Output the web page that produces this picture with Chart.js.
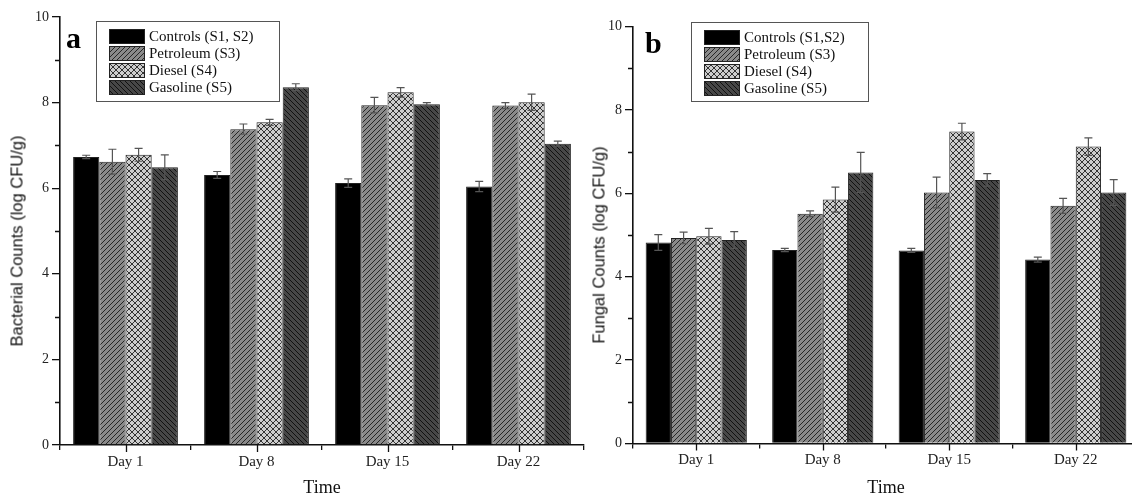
<!DOCTYPE html>
<html>
<head>
<meta charset="utf-8">
<script src="https://cdn.jsdelivr.net/npm/chart.js@4.4.0/dist/chart.umd.min.js"></script>
<style>
  html, body { margin: 0; padding: 0; background: #fff; }
  #wrap { position: relative; width: 1132px; height: 497px; overflow: hidden; }
  canvas.chart { position: absolute; top: 0; }
  .ytitle { position: absolute; font: 16.5px 'Liberation Sans', Arial, sans-serif; color: #111; white-space: nowrap;
            transform: translate(-50%, -50%) rotate(-90deg); }
  .legend { position: absolute; box-sizing: border-box; border: 1px solid #555; background: #fff; padding-top: 6px;
            font: 15px 'Liberation Serif', 'Times New Roman', serif; color: #111; }
  .legend .row { display: flex; align-items: center; height: 17px; padding-left: 12px; }
  .legend canvas { border: 1px solid #222; margin-right: 4px; }
  .panel { position: absolute; font: bold 30px 'Liberation Serif', 'Times New Roman', serif; line-height: 1; color: #000; }
</style>
</head>
<body>
<div id="wrap">
  <canvas id="bact" class="chart" width="600" height="497" style="left:0px"></canvas>
  <canvas id="fung" class="chart" width="590" height="497" style="left:560px"></canvas>
  <div class="ytitle" style="left:17px; top:241px">Bacterial Counts (log CFU/g)</div>
  <div class="ytitle" style="left:599px; top:245px">Fungal Counts (log CFU/g)</div>
  <div class="panel" style="left:66px; top:23px">a</div>
  <div class="panel" style="left:645px; top:28px">b</div>
  <div id="legA" class="legend" style="left:96px; top:21px; width:184px; height:81px"></div>
  <div id="legB" class="legend" style="left:691px; top:22px; width:178px; height:80px"></div>
</div>
<script>
// data
const days = ['Day 1', 'Day 8', 'Day 15', 'Day 22'];
const legendA = ['Controls (S1, S2)', 'Petroleum (S3)', 'Diesel (S4)', 'Gasoline (S5)'];
const legendB = ['Controls (S1,S2)', 'Petroleum (S3)', 'Diesel (S4)', 'Gasoline (S5)'];

// (a) bacterial counts
const bactControls = [6.73, 6.31, 6.12, 6.04];
const bactPetroleum = [6.62, 7.38, 7.94, 7.93];
const bactDiesel = [6.78, 7.54, 8.24, 8.01];
const bactGasoline = [6.49, 8.36, 7.96, 7.04];
const bactControlsErr = [0.04, 0.08, 0.10, 0.12];
const bactPetroleumErr = [0.29, 0.12, 0.18, 0.07];
const bactDieselErr = [0.15, 0.07, 0.11, 0.19];
const bactGasolineErr = [0.29, 0.08, 0.04, 0.06];

// (b) fungal counts
const fungControls = [4.82, 4.64, 4.63, 4.41];
const fungPetroleum = [4.93, 5.51, 6.02, 5.70];
const fungDiesel = [4.97, 5.85, 7.48, 7.12];
const fungGasoline = [4.88, 6.50, 6.32, 6.02];
const fungControlsErr = [0.19, 0.04, 0.05, 0.06];
const fungPetroleumErr = [0.14, 0.07, 0.37, 0.18];
const fungDieselErr = [0.19, 0.30, 0.20, 0.21];
const fungGasolineErr = [0.20, 0.48, 0.15, 0.31];

const yTicks = [0, 2, 4, 6, 8, 10];

const SERIF = "'Liberation Serif', 'Times New Roman', serif";

// hatch tiles: solid, "/" , crosshatch, "\"
function makeTile(kind) {
  const c = document.createElement('canvas');
  const s = kind === 'cross' ? 6 : 5;
  c.width = s; c.height = s;
  const g = c.getContext('2d');
  const styles = {
    solid: ['#000', null],
    fwd: ['#8a8a8a', '#262626'],
    cross: ['#cdcdcd', '#333'],
    back: ['#474747', '#111'],
  };
  const [bg, line] = styles[kind];
  g.fillStyle = bg;
  g.fillRect(0, 0, s, s);
  if (line) {
    g.strokeStyle = line;
    g.lineWidth = 1;
    g.beginPath();
    if (kind === 'fwd' || kind === 'cross') {
      g.moveTo(-1, s + 1); g.lineTo(s + 1, -1);
      g.moveTo(-1, 1); g.lineTo(1, -1);
      g.moveTo(s - 1, s + 1); g.lineTo(s + 1, s - 1);
    }
    if (kind === 'back' || kind === 'cross') {
      g.moveTo(-1, -1); g.lineTo(s + 1, s + 1);
      g.moveTo(-1, s - 1); g.lineTo(1, s + 1);
      g.moveTo(s - 1, -1); g.lineTo(s + 1, 1);
    }
    g.stroke();
  }
  return c;
}
const kinds = ['solid', 'fwd', 'cross', 'back'];
const tiles = kinds.map(makeTile);

function buildLegend(id, labels) {
  const box = document.getElementById(id);
  labels.forEach((txt, i) => {
    const row = document.createElement('div');
    row.className = 'row';
    const sw = document.createElement('canvas');
    sw.width = 34; sw.height = 13;
    const g = sw.getContext('2d');
    g.fillStyle = g.createPattern(tiles[i], 'repeat');
    g.fillRect(0, 0, 34, 13);
    const span = document.createElement('span');
    span.textContent = txt;
    row.appendChild(sw);
    row.appendChild(span);
    box.appendChild(row);
  });
}
buildLegend('legA', legendA);
buildLegend('legB', legendB);

const errorBars = {
  id: 'errorBars',
  afterDatasetsDraw(chart) {
    const ctx = chart.ctx;
    const y = chart.scales.y;
    ctx.save();
    ctx.strokeStyle = '#555';
    ctx.lineWidth = 1.2;
    chart.data.datasets.forEach((ds, i) => {
      chart.getDatasetMeta(i).data.forEach((bar, j) => {
        const v = ds.data[j], e = ds.errors[j];
        const top = y.getPixelForValue(v + e);
        const bot = y.getPixelForValue(v - e);
        ctx.beginPath();
        ctx.moveTo(bar.x, top); ctx.lineTo(bar.x, bot);
        ctx.moveTo(bar.x - 4, top); ctx.lineTo(bar.x + 4, top);
        ctx.moveTo(bar.x - 4, bot); ctx.lineTo(bar.x + 4, bot);
        ctx.stroke();
      });
    });
    ctx.restore();
  }
};

// minor y ticks at odd values, and x ticks at category centres
const extraTicks = {
  id: 'extraTicks',
  afterDraw(chart) {
    const ctx = chart.ctx;
    const { x, y } = chart.scales;
    ctx.save();
    ctx.strokeStyle = '#111';
    ctx.lineWidth = 1.3;
    ctx.beginPath();
    for (let v = 1; v < 10; v += 2) {
      const py = Math.round(y.getPixelForValue(v)) + 0.5;
      ctx.moveTo(y.right - 5, py); ctx.lineTo(y.right, py);
    }
    x.ticks.forEach((t, i) => {
      const px = Math.round(x.getPixelForTick(i)) + 0.5;
      ctx.moveTo(px, x.top); ctx.lineTo(px, x.top + 7);
    });
    ctx.stroke();
    ctx.restore();
  }
};

function makeChart(id, series, errs, geo) {
  const ctx = document.getElementById(id).getContext('2d');
  const datasets = series.map((data, i) => ({
    data: data,
    errors: errs[i],
    backgroundColor: ctx.createPattern(tiles[i], 'repeat'),
    borderColor: '#222',
    borderWidth: 1,
    categoryPercentage: 0.8,
    barPercentage: 1.0,
  }));
  return new Chart(ctx, {
    type: 'bar',
    data: { labels: days, datasets: datasets },
    options: {
      responsive: false,
      animation: false,
      layout: { padding: { left: 0, right: geo.padRight, top: geo.padTop, bottom: 0 } },
      plugins: { legend: { display: false }, tooltip: { enabled: false } },
      scales: {
        x: {
          grid: { display: true, drawOnChartArea: false, drawTicks: true, tickLength: 5, color: '#111', lineWidth: 1.3, offset: true },
          border: { display: true, color: '#111', width: 1.6 },
          ticks: { font: { family: SERIF, size: 15 }, color: '#222', padding: 3, maxRotation: 0 },
          title: { display: true, text: 'Time', color: '#111', padding: 0, font: { family: SERIF, size: 18, lineHeight: 1 } },
          afterFit: (s) => { s.height = geo.xHeight; },
        },
        y: {
          min: 0,
          max: 10,
          afterBuildTicks: (s) => { s.ticks = yTicks.map(v => ({ value: v })); },
          ticks: { font: { family: SERIF, size: 14 }, color: '#222', padding: 3 },
          grid: { drawOnChartArea: false, tickLength: 8, color: '#111', lineWidth: 1.3 },
          border: { display: true, color: '#111', width: 1.6 },
          afterFit: (s) => { s.width = geo.yWidth; },
        },
      },
    },
    plugins: [errorBars, extraTicks],
  });
}

makeChart('bact',
  [bactControls, bactPetroleum, bactDiesel, bactGasoline],
  [bactControlsErr, bactPetroleumErr, bactDieselErr, bactGasolineErr],
  { yWidth: 60, xHeight: 52, padTop: 17, padRight: 16 });

makeChart('fung',
  [fungControls, fungPetroleum, fungDiesel, fungGasoline],
  [fungControlsErr, fungPetroleumErr, fungDieselErr, fungGasolineErr],
  { yWidth: 73, xHeight: 53.5, padTop: 26.5, padRight: 11 });
</script>
</body>
</html>
